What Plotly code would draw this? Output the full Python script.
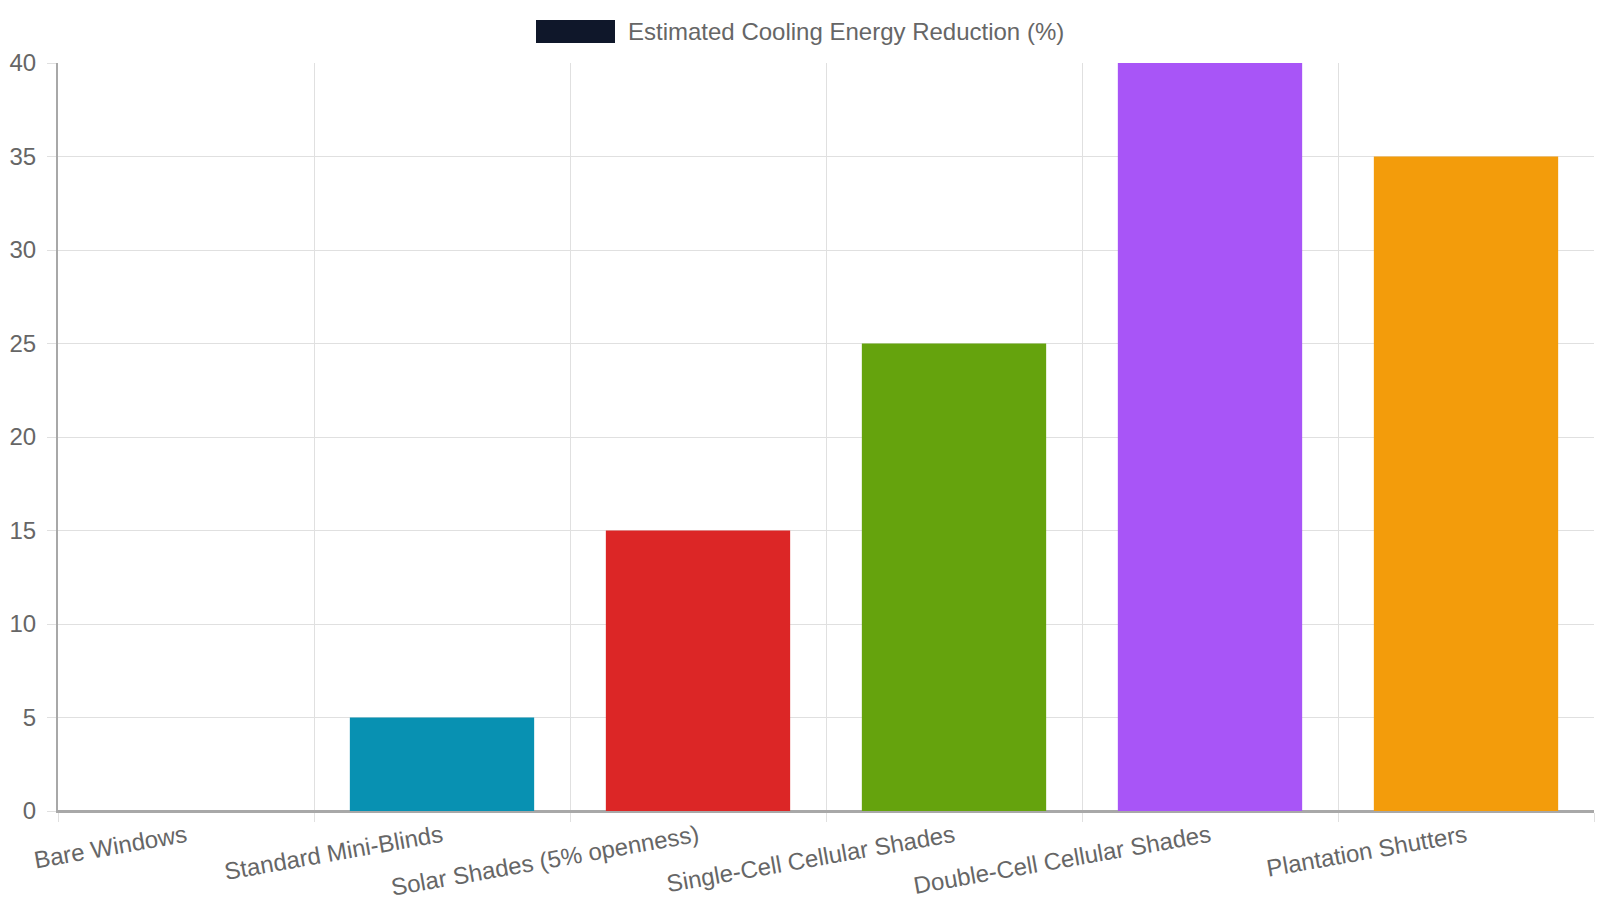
import plotly.graph_objects as go

categories = ["Bare Windows", "Standard Mini-Blinds", "Solar Shades (5% openness)",
              "Single-Cell Cellular Shades", "Double-Cell Cellular Shades", "Plantation Shutters"]
values = [0, 5, 15, 25, 40, 35]
colors = ["#0891b2", "#0891b2", "#dc2626", "#65a30d", "#a855f7", "#f39c0b"]
series_name = "Estimated Cooling Energy Reduction (%)"
legend_color = "#0f172a"

W, H = 1600, 900
L, R, T, B = 58, 6, 63, 89
pw, ph = W - L - R, H - T - B

def px_x(x):
    return (x - L) / pw

def px_y(y):
    return (H - B - y) / ph

FONT = "Liberation Sans, Arial, sans-serif"
TXT = "#666666"
GRID = "#e0e0e0"
AXIS = "#a8a8a8"
FS = 24

fig = go.Figure()
fig.add_trace(go.Bar(
    x=categories, y=values, marker=dict(color=colors, line=dict(width=0)),
    width=0.72, name=series_name, showlegend=False,
))

fig.update_layout(
    width=W, height=H,
    margin=dict(l=L, r=R, t=T, b=B, pad=0, autoexpand=False),
    paper_bgcolor="white", plot_bgcolor="white",
    font=dict(family=FONT, color=TXT, size=FS),
    showlegend=False,
)
fig.update_xaxes(
    type="category", tickson="boundaries", automargin=False,
    showgrid=True, gridcolor=GRID, gridwidth=1,
    ticks="outside", ticklen=9, tickcolor=GRID,
    tickangle=-10, tickfont=dict(size=FS, color=TXT),
    showline=True, linecolor=AXIS, linewidth=2,
    range=[-0.5, 5.5], zeroline=False,
)
fig.update_yaxes(
    range=[0, 40], dtick=5, tick0=0, automargin=False,
    showgrid=True, gridcolor=GRID, gridwidth=1,
    ticks="outside", ticklen=9, tickcolor=GRID,
    ticklabelstandoff=6,
    tickfont=dict(size=FS, color=TXT),
    showline=True, linecolor=AXIS, linewidth=2,
    zeroline=True, zerolinecolor=AXIS, zerolinewidth=2,
)

# legend (drawn as layout decoration)
fig.add_shape(type="rect", xref="paper", yref="paper",
              x0=px_x(536), x1=px_x(615), y0=px_y(43), y1=px_y(20),
              fillcolor=legend_color, line=dict(width=0))
fig.add_annotation(xref="paper", yref="paper", x=px_x(626), y=px_y(31.5),
                   xanchor="left", yanchor="middle", showarrow=False,
                   text=series_name, font=dict(size=FS, color=TXT, family=FONT))

fig.write_html("out.html")
